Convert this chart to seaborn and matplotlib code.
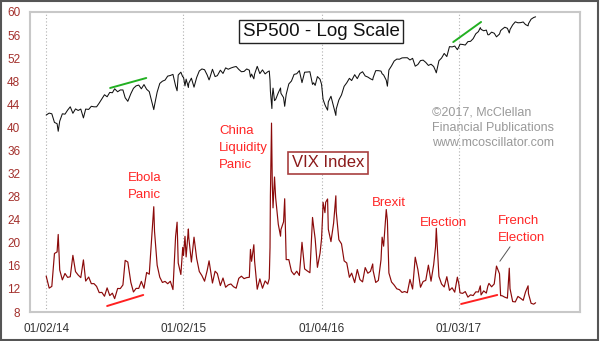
import matplotlib
matplotlib.use("Agg")
import matplotlib.pyplot as plt
from matplotlib.patches import Rectangle
import pandas as pd
import seaborn as sns

# Closing values: S&P 500 and VIX, weekly plus key swing days
dates = [
    "2014-01-02", "2014-01-10", "2014-01-17", "2014-01-24", "2014-01-31", "2014-02-03", "2014-02-07",
    "2014-02-14", "2014-02-21", "2014-02-28", "2014-03-07", "2014-03-14", "2014-03-21", "2014-03-28",
    "2014-04-04", "2014-04-11", "2014-04-17", "2014-04-25", "2014-05-02", "2014-05-09", "2014-05-16",
    "2014-05-23", "2014-05-30", "2014-06-06", "2014-06-13", "2014-06-20", "2014-06-27", "2014-07-03",
    "2014-07-11", "2014-07-18", "2014-07-25", "2014-07-31", "2014-08-07", "2014-08-15", "2014-08-22",
    "2014-08-29", "2014-09-05", "2014-09-12", "2014-09-19", "2014-09-26", "2014-10-03", "2014-10-10",
    "2014-10-15", "2014-10-17", "2014-10-24", "2014-10-31", "2014-11-07", "2014-11-14", "2014-11-21",
    "2014-11-28", "2014-12-05", "2014-12-12", "2014-12-16", "2014-12-19", "2014-12-26", "2014-12-31",
    "2015-01-02", "2015-01-06", "2015-01-09", "2015-01-15", "2015-01-16", "2015-01-23", "2015-01-30",
    "2015-02-06", "2015-02-13", "2015-02-20", "2015-02-27", "2015-03-06", "2015-03-11", "2015-03-13",
    "2015-03-20", "2015-03-27", "2015-04-02", "2015-04-10", "2015-04-17", "2015-04-24", "2015-05-01",
    "2015-05-08", "2015-05-15", "2015-05-22", "2015-05-29", "2015-06-05", "2015-06-12", "2015-06-19",
    "2015-06-26", "2015-06-29", "2015-07-02", "2015-07-08", "2015-07-10", "2015-07-17", "2015-07-24",
    "2015-07-31", "2015-08-07", "2015-08-14", "2015-08-18", "2015-08-20", "2015-08-21", "2015-08-24",
    "2015-08-25", "2015-08-26", "2015-08-28", "2015-09-01", "2015-09-04", "2015-09-11", "2015-09-17",
    "2015-09-18", "2015-09-25", "2015-09-28", "2015-10-02", "2015-10-09", "2015-10-16", "2015-10-23",
    "2015-10-30", "2015-11-06", "2015-11-13", "2015-11-20", "2015-11-27", "2015-12-04", "2015-12-11",
    "2015-12-14", "2015-12-18", "2015-12-24", "2015-12-31",
    "2016-01-04", "2016-01-07", "2016-01-08", "2016-01-13", "2016-01-15", "2016-01-20", "2016-01-22",
    "2016-01-29", "2016-02-05", "2016-02-11", "2016-02-12", "2016-02-19", "2016-02-26", "2016-03-04",
    "2016-03-11", "2016-03-18", "2016-03-24", "2016-04-01", "2016-04-08", "2016-04-15", "2016-04-22",
    "2016-04-29", "2016-05-06", "2016-05-13", "2016-05-19", "2016-05-20", "2016-05-27", "2016-06-03",
    "2016-06-10", "2016-06-13", "2016-06-17", "2016-06-24", "2016-06-27", "2016-07-01", "2016-07-08",
    "2016-07-15", "2016-07-22", "2016-07-29", "2016-08-05", "2016-08-12", "2016-08-19", "2016-08-26",
    "2016-09-02", "2016-09-09", "2016-09-16", "2016-09-23", "2016-09-30", "2016-10-07", "2016-10-14",
    "2016-10-21", "2016-10-28", "2016-11-02", "2016-11-04", "2016-11-11", "2016-11-18", "2016-11-25",
    "2016-12-02", "2016-12-09", "2016-12-16", "2016-12-23", "2016-12-30",
    "2017-01-03", "2017-01-06", "2017-01-13", "2017-01-20", "2017-01-27", "2017-02-03", "2017-02-10",
    "2017-02-17", "2017-02-24", "2017-03-01", "2017-03-03", "2017-03-10", "2017-03-17", "2017-03-21",
    "2017-03-24", "2017-03-31", "2017-04-07", "2017-04-13", "2017-04-21", "2017-04-24", "2017-04-28",
    "2017-05-05", "2017-05-12", "2017-05-17", "2017-05-19", "2017-05-26", "2017-06-02", "2017-06-09",
    "2017-06-16", "2017-06-23", "2017-06-29", "2017-07-06", "2017-07-07", "2017-07-14", "2017-07-21",
    "2017-07-26",
]

spx = [
    1831, 1842, 1838, 1790, 1783, 1742, 1797, 1838, 1836, 1859, 1878, 1841, 1866, 1857,
    1865, 1815, 1865, 1863, 1881, 1878, 1878, 1900, 1924, 1949, 1937, 1963, 1961, 1985,
    1967, 1978, 1978, 1931, 1910, 1955, 1988, 2003, 2008, 1985, 2011, 1982, 1968, 1906,
    1862, 1887, 1965, 2018, 2032, 2039, 2064, 2068, 2075, 2003, 1973, 2071, 2089, 2059,
    2058, 2003, 2045, 1993, 2019, 2051, 1995, 2055, 2097, 2110, 2105, 2071, 2040, 2053,
    2108, 2061, 2067, 2102, 2081, 2117, 2108, 2116, 2122, 2126, 2107, 2092, 2094, 2110,
    2102, 2058, 2077, 2047, 2077, 2127, 2080, 2104, 2078, 2092, 2097, 2036, 1971, 1893,
    1868, 1940, 1989, 1914, 1921, 1961, 1990, 1958, 1932, 1881, 1951, 2015, 2033, 2075,
    2079, 2099, 2023, 2089, 2090, 2092, 2012, 2022, 2006, 2061, 2044,
    2013, 1944, 1922, 1890, 1880, 1859, 1907, 1940, 1880, 1829, 1865, 1918, 1948, 2000,
    2022, 2050, 2036, 2073, 2048, 2081, 2092, 2065, 2058, 2047, 2040, 2053, 2099, 2099,
    2096, 2079, 2071, 2038, 2001, 2103, 2130, 2162, 2175, 2174, 2183, 2184, 2184, 2169,
    2180, 2128, 2139, 2165, 2168, 2153, 2133, 2141, 2126, 2098, 2085, 2164, 2182, 2213,
    2192, 2260, 2258, 2264, 2239,
    2258, 2277, 2275, 2271, 2295, 2297, 2316, 2351, 2367, 2396, 2383, 2373, 2378, 2344,
    2344, 2363, 2355, 2329, 2349, 2374, 2384, 2399, 2391, 2357, 2382, 2416, 2439, 2432,
    2433, 2438, 2419, 2409, 2425, 2459, 2472, 2477,
]

vix = [
    14.23, 12.14, 12.44, 18.14, 18.41, 21.44, 15.29, 13.57, 14.68, 14.00, 14.11, 17.82, 15.00, 14.41,
    13.96, 17.03, 13.36, 14.06, 12.91, 12.92, 12.44, 11.36, 11.40, 10.73, 12.18, 10.85, 11.26, 10.32,
    12.08, 12.06, 12.69, 16.95, 16.66, 13.15, 11.47, 12.09, 12.09, 13.31, 12.11, 14.85, 14.55, 21.24,
    26.25, 21.99, 16.11, 14.03, 13.12, 13.31, 12.90, 13.33, 11.89, 21.08, 23.57, 16.49, 14.50, 19.20,
    17.79, 21.12, 17.55, 22.39, 20.95, 16.66, 20.97, 17.29, 15.02, 14.30, 13.34, 15.20, 16.87, 16.00,
    13.02, 15.07, 14.67, 12.58, 13.89, 12.29, 12.70, 12.86, 12.38, 12.13, 13.84, 14.21, 13.78, 13.96,
    14.02, 18.85, 16.79, 19.66, 16.83, 11.95, 13.74, 12.12, 13.39, 12.83, 13.79, 19.14, 28.03, 40.74,
    36.02, 30.32, 26.05, 31.40, 27.80, 23.20, 21.14, 22.28, 23.62, 27.63, 17.08, 17.08, 15.05, 14.46,
    15.07, 14.33, 20.08, 15.47, 15.12, 14.81, 24.39, 22.73, 20.70, 15.74, 18.21,
    20.70, 24.99, 27.01, 25.22, 27.02, 27.59, 22.34, 20.20, 23.38, 28.14, 25.40, 20.53, 19.81, 16.86,
    16.50, 14.02, 14.74, 13.10, 15.36, 13.62, 13.22, 15.70, 14.72, 15.04, 16.33, 15.20, 13.12, 13.47,
    17.03, 20.97, 19.41, 25.76, 23.85, 14.77, 13.20, 12.67, 12.02, 11.87, 11.39, 11.55, 11.34, 13.65,
    11.98, 17.50, 15.37, 12.29, 13.29, 13.48, 16.12, 13.34, 16.19, 19.32, 22.51, 14.17, 12.85, 12.34,
    14.12, 11.75, 12.20, 11.44, 14.04,
    12.85, 11.32, 11.23, 11.54, 10.58, 10.97, 10.85, 11.49, 11.47, 12.54, 10.96, 11.66, 11.28, 12.47,
    12.96, 12.37, 12.87, 15.96, 14.63, 10.84, 10.82, 10.57, 10.40, 15.59, 12.04, 9.81, 9.75, 10.70,
    10.38, 10.02, 11.44, 12.54, 11.19, 9.51, 9.36, 9.60,
]

tick_dates = ["2014-01-02", "2015-01-02", "2016-01-04", "2017-01-03"]
tick_labels = ["01/02/14", "01/02/15", "01/04/16", "01/03/17"]
vix_ticks = list(range(8, 61, 4))

# Divergence trend lines (dates, values)
spx_trend_a = (["2014-06-21", "2014-09-25"], [1990, 2052])
spx_trend_b = (["2016-12-19", "2017-03-03"], [2292, 2438])
vix_trend_a = (["2014-06-13", "2014-09-17"], [9.04, 10.95])
vix_trend_b = (["2017-01-09", "2017-04-15"], [9.39, 10.95])

# Event labels: text, date, VIX level of the label's top-left corner
events = [
    ("Ebola\nPanic", "2014-08-08", 32.3),
    ("China\nLiquidity\nPanic", "2015-04-07", 40.4),
    ("Brexit", "2016-05-16", 28.0),
    ("Election", "2016-09-22", 24.5),
    ("French\nElection", "2017-04-16", 24.8),
]
french_pointer = (["2017-04-22", "2017-05-19"], [16.8, 19.3])

sns.set_style("white")
plt.rcParams["font.family"] = ["Liberation Sans", "DejaVu Sans"]

df = pd.DataFrame({"date": pd.to_datetime(dates), "spx": spx, "vix": vix})

fig = plt.figure(figsize=(6, 3.41), dpi=100)
ax = fig.add_axes([0.05, 0.08504, 0.91667, 0.87977])

VIX_COLOR = "#8b0a0a"
LABEL_RED = "#ff2626"

sns.lineplot(data=df, x="date", y="vix", ax=ax, color=VIX_COLOR, linewidth=0.85, zorder=3)

ax.set_xlim(pd.Timestamp("2013-11-20"), pd.Timestamp("2017-11-21"))
ax.set_ylim(8, 60)
ax.set_yticks(vix_ticks)
ax.set_yticklabels([str(v) for v in vix_ticks])
ax.set_xticks(pd.to_datetime(tick_dates))
ax.set_xticklabels(tick_labels)
ax.set_xlabel("")
ax.set_ylabel("")
ax.tick_params(axis="y", length=0, pad=7, labelsize=8.5, labelcolor="#a3302c")
ax.tick_params(axis="x", length=0, pad=8, labelsize=8.5, labelcolor="#333333")
ax.grid(axis="x", color="#b0b0b0", linestyle=(0, (1, 2)), linewidth=0.8)
ax.grid(axis="y", visible=False)
for side, sp in ax.spines.items():
    sp.set_color("#c8c8c8")
    sp.set_linewidth(1.5)

# Trend lines on the VIX
for d, v in (vix_trend_a, vix_trend_b):
    ax.plot(pd.to_datetime(d), v, color="#ff2020", linewidth=1.4, zorder=4)

# Event labels
for text, d, v in events:
    ax.text(pd.Timestamp(d), v, text, color=LABEL_RED, fontsize=9.5, ha="left", va="top",
            linespacing=1.55, zorder=5)
ax.plot(pd.to_datetime(french_pointer[0]), french_pointer[1], color="#555555", linewidth=0.7, zorder=4)

ax.text(0.5418, 0.4967, "VIX Index", transform=ax.transAxes, color="#8b1a1a", fontsize=12,
        ha="center", va="center", zorder=6,
        bbox=dict(boxstyle="square,pad=0.2", facecolor="white", edgecolor="#a84040", linewidth=1.2))

ax.text(0.7309, 0.6133, "\u00a92017, McClellan\nFinancial Publications\nwww.mcoscillator.com",
        transform=ax.transAxes, color="#999999", fontsize=9, ha="left", va="center",
        linespacing=1.38, zorder=5)

# S&P 500 on a hidden log-scale axis
ax2 = ax.twinx()
sns.lineplot(data=df, x="date", y="spx", ax=ax2, color="#111111", linewidth=0.75, zorder=3)
ax2.set_yscale("log")
ax2.set_ylim(999, 2514)
ax2.set_yticks([])
ax2.set_yticks([], minor=True)
ax2.set_ylabel("")
for sp in ax2.spines.values():
    sp.set_visible(False)
for d, v in (spx_trend_a, spx_trend_b):
    ax2.plot(pd.to_datetime(d), v, color="#22b022", linewidth=1.4, zorder=4)

ax2.text(0.529, 0.935, "SP500 - Log Scale", transform=ax2.transAxes, color="#111111", fontsize=13.5,
         ha="center", va="center", zorder=6,
         bbox=dict(boxstyle="square,pad=0.17", facecolor="white", edgecolor="#222222", linewidth=1.0))

fig.patches.append(Rectangle((0.002, 0.003), 0.995, 0.994, transform=fig.transFigure,
                             fill=False, edgecolor="#555555", linewidth=1.5))

fig.savefig("out.png", dpi=100, facecolor="white")
